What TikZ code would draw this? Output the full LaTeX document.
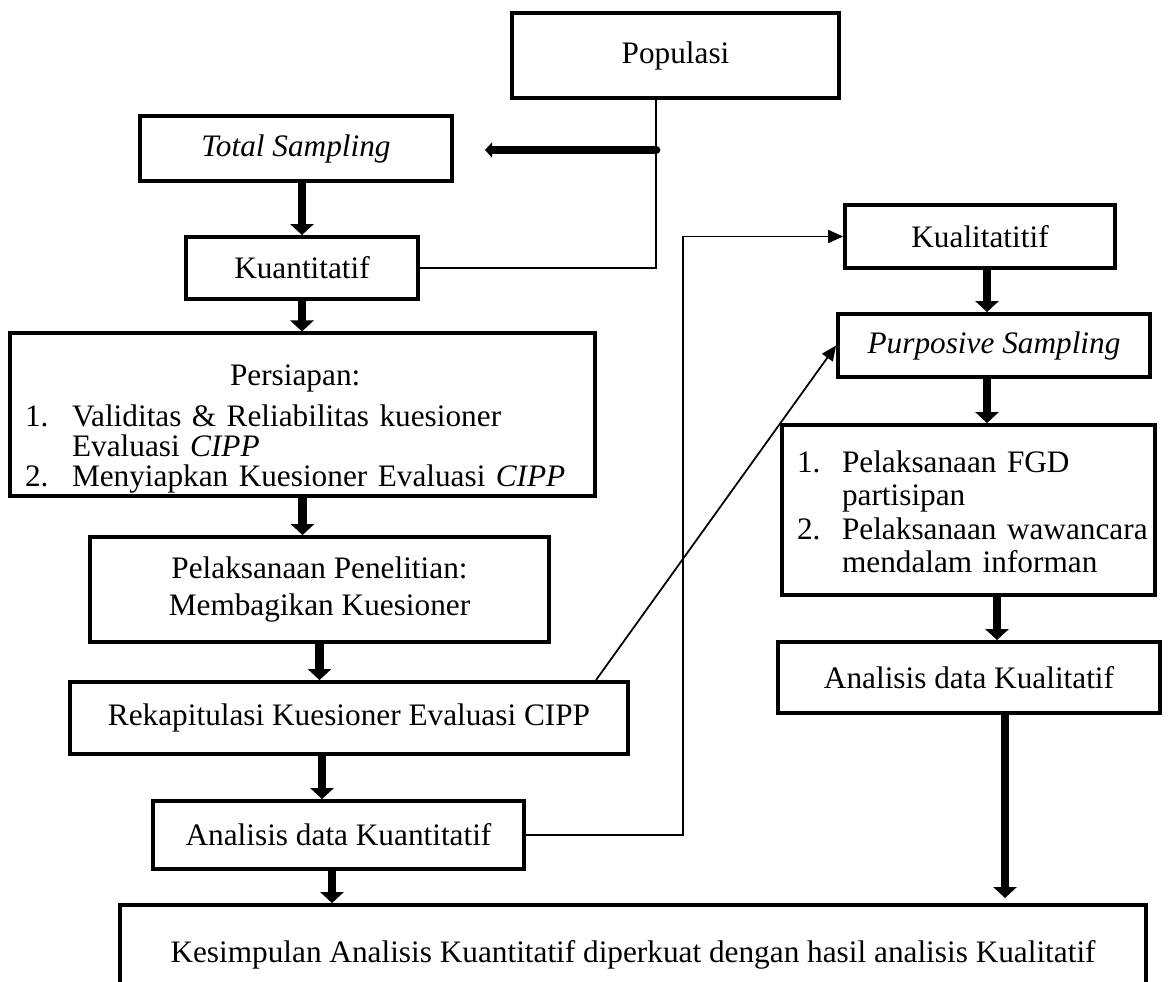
\documentclass[tikz,border=0pt]{standalone}
\usepackage{fontspec}
\setmainfont{Liberation Serif}
\usetikzlibrary{arrows.meta, positioning}
\tikzset{
box/.style = {rectangle, draw=black, line width=2.2pt, align=center, inner sep=0pt, font=\fontsize{17.8}{21.5}\selectfont},
listbox/.style = {box, align=left, inner xsep=0.3cm},
fatarrow/.style = {line width=5pt, -{Triangle[width=0.46cm,length=0.22cm]}},
pinarrow/.style = {line width=5pt, line cap=round, -{Triangle[width=0.3cm,length=0.14cm]}},
thinline/.style = {line width=1pt},
thinarrow/.style = {line width=1pt, -{Triangle[width=0.26cm,length=0.3cm]}}
}
\newcommand{\itemno}[1]{\makebox[0.94cm][l]{#1}}

\begin{document}
\begin{tikzpicture}[x=0.02cm, y=-0.02cm]
\useasboundingbox (0,0) rectangle (1168,982);
\clip (0,0) rectangle (1168,982);

% left column
\node (pop) [box, minimum width=6.54cm, minimum height=1.7cm] at (675.5,55.5) {\raisebox{-0.12cm}{Populasi}};
\node (total) [box, minimum width=6.24cm, minimum height=1.3cm] at (296,148.5) {\textit{Total Sampling}};
\node (kuanti) [box, minimum width=4.64cm, minimum height=1.24cm] at (302,268) {Kuantitatif};
\node (prep) [listbox, minimum width=11.7cm, minimum height=3.14cm, text width=11.1cm, font=\fontsize{17.8}{16.4}\selectfont] at (302.5,414.5) {%
\begin{tabular}{@{}l@{}l@{}}
\multicolumn{2}{@{}c@{}}{\rule{0pt}{1.05cm}Persiapan:}\\[0.2cm]
\itemno{1.} & Validitas \& Reliabilitas kuesioner\\
\itemno{} & Evaluasi \textit{CIPP}\\
\itemno{2.} & Menyiapkan Kuesioner Evaluasi \textit{CIPP}
\end{tabular}};
\node (pelak) [box, minimum width=9.18cm, minimum height=2.1cm] at (319.5,589.5) {Pelaksanaan Penelitian:\\Membagikan Kuesioner};
\node (rekap) [box, minimum width=11.16cm, minimum height=1.44cm] at (349,718) {Rekapitulasi Kuesioner Evaluasi CIPP};
\node (anakuan) [box, minimum width=7.42cm, minimum height=1.36cm] at (338.5,835) {Analisis data Kuantitatif};

% right column
\node (kual) [box, minimum width=5.4cm, minimum height=1.26cm] at (980,236.5) {Kualitatitif};
\node (purp) [box, minimum width=6.24cm, minimum height=1.26cm] at (994,345.5) {\textit{Purposive Sampling}};
\node (fgd) [listbox, minimum width=7.46cm, minimum height=3.4cm, text width=6.86cm, font=\fontsize{17.8}{19}\selectfont] at (968.5,510) {%
\begin{tabular}{@{}l@{}l@{}}
\rule{0pt}{0.7cm}\makebox[0.9cm][l]{1.} & Pelaksanaan FGD\\
\makebox[0.9cm][l]{} & partisipan\\
\makebox[0.9cm][l]{2.} & Pelaksanaan wawancara\\
\makebox[0.9cm][l]{} & mendalam informan
\end{tabular}};
\node (anakual) [box, minimum width=7.64cm, minimum height=1.42cm] at (969,677.5) {Analisis data Kualitatif};

\node (final) [box, minimum width=20.52cm, minimum height=2cm] at (633,955) {Kesimpulan Analisis Kuantitatif diperkuat dengan hasil analisis Kualitatif};

\coordinate (split) at (656,150);
\coordinate (tstip) at (485,150);
\coordinate (qualend) at (1005,898);

% main flow
\draw [fatarrow] (kuanti.north |- total.south) -- (kuanti.north);
\draw [fatarrow] (kuanti.south) -- (kuanti.south |- prep.north);
\draw [fatarrow] (prep.south) -- (prep.south |- pelak.north);
\draw [fatarrow] (pelak.south) -- (pelak.south |- rekap.north);
\draw [fatarrow] (rekap.south -| 322,0) -- (anakuan.north -| 322,0);
\draw [fatarrow] (anakuan.south -| 332,0) -- (final.north -| 332,0);

\draw [fatarrow] (kual.south -| 987,0) -- (purp.north -| 987,0);
\draw [fatarrow] (purp.south -| 987,0) -- (fgd.north -| 987,0);
\draw [fatarrow] (fgd.south -| 997,0) -- (anakual.north -| 997,0);
\draw [fatarrow] (anakual.south -| qualend) -- (qualend);

% thin links
\draw [thinline] (pop.south -| split) |- (kuanti.east);
\draw [pinarrow] (split) -- (tstip);
\draw [thinarrow] (anakuan.east) -- (anakuan.east -| 683,0) |- (kual.west);
\draw [thinarrow] (rekap.north -| 596,0) -- (purp.west);

\end{tikzpicture}
\end{document}
